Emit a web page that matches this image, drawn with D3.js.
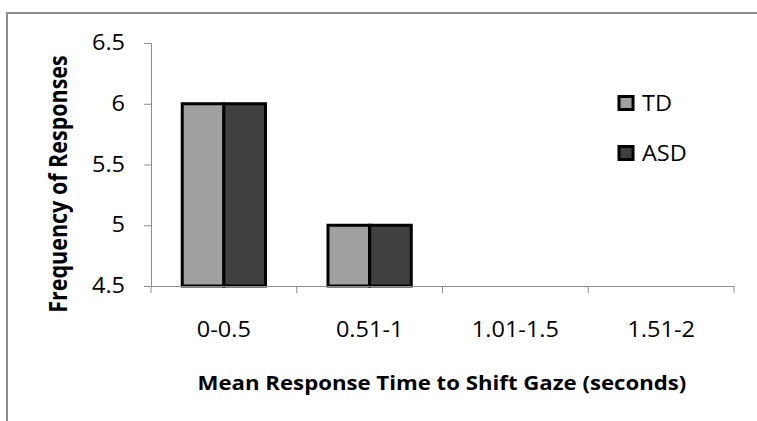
<!DOCTYPE html>
<html>
<head>
<meta charset="utf-8">
<script src="https://cdn.jsdelivr.net/npm/d3@7"></script>
<style>
  body { margin: 0; background: #fff; }
  svg { display: block; }
  text { font-family: "Open Sans", sans-serif; fill: #000; }
</style>
</head>
<body>
<svg id="chart" width="757" height="421"></svg>
<script>
// Response-time bins and frequencies per group
const categories = ["0-0.5", "0.51-1", "1.01-1.5", "1.51-2"];
const seriesNames = ["TD", "ASD"];
const tdValues = [6, 5, 4.5, 4.5];
const asdValues = [6, 5, 4.5, 4.5];
const yTicks = [4.5, 5, 5.5, 6, 6.5];
const colors = { TD: "#a0a0a0", ASD: "#404040" };

const svg = d3.select("#chart");
const W = 757, H = 421;
const SX = 1.12; // horizontal widening of glyphs

// widen a text element horizontally about its own anchor point
function widen(sel, sx) {
  sel.each(function () {
    const t = d3.select(this);
    const x = +t.attr("x") || 0;
    t.attr("transform", `translate(${x},0) scale(${sx},1) translate(${-x},0)`);
  });
}

// frame around the chart area
svg.append("rect")
  .attr("x", 7).attr("y", 13)
  .attr("width", W + 20).attr("height", H + 20)
  .attr("fill", "none").attr("stroke", "#8c8c8c").attr("stroke-width", 2);

const plot = { left: 151, right: 734, top: 43, bottom: 286 };

const y = d3.scaleLinear().domain([4.5, 6.5]).range([plot.bottom, plot.top]);
const x0 = d3.scaleBand().domain(categories).range([plot.left, plot.right]).padding(0);
const x1 = d3.scaleBand().domain(seriesNames).range([0, x0.bandwidth()])
  .paddingInner(0).paddingOuter(0.75);

const data = categories.map((c, i) => ({ cat: c, TD: tdValues[i], ASD: asdValues[i] }));

// bars
const groups = svg.append("g").selectAll("g").data(data).join("g")
  .attr("transform", d => `translate(${x0(d.cat)},0)`);
groups.selectAll("rect")
  .data(d => seriesNames.map(s => ({ s, v: d[s] })).filter(e => e.v > 4.5))
  .join("rect")
  .attr("x", d => x1(d.s))
  .attr("y", d => y(d.v))
  .attr("width", x1.bandwidth())
  .attr("height", d => y(4.5) - y(d.v))
  .attr("fill", d => colors[d.s])
  .attr("stroke", "#000")
  .attr("stroke-width", 3);

// y axis
const yAxis = svg.append("g")
  .attr("transform", `translate(${plot.left},0)`)
  .call(d3.axisLeft(y).tickValues(yTicks).tickSize(7).tickPadding(19)
    .tickFormat(d => d3.format("")(d)));
yAxis.select(".domain").attr("stroke", "#8c8c8c");
yAxis.selectAll(".tick line").attr("stroke", "#8c8c8c");
yAxis.selectAll(".tick text").style("font-size", "21px").attr("fill", "#222")
  .call(widen, SX);

// x axis
const xAxis = svg.append("g")
  .attr("transform", `translate(0,${plot.bottom})`)
  .call(d3.axisBottom(x0).tickSize(0));
xAxis.select(".domain").attr("stroke", "#8c8c8c");
xAxis.selectAll(".tick text")
  .attr("y", 51).attr("dy", 0)
  .style("font-size", "21px").attr("fill", "#222")
  .call(widen, SX);
// category boundary ticks
const bounds = [plot.left, ...categories.map(c => x0(c) + x0.bandwidth())];
xAxis.selectAll(".bound").data(bounds).join("line")
  .attr("class", "bound")
  .attr("x1", d => d).attr("x2", d => d)
  .attr("y1", 0).attr("y2", 7)
  .attr("stroke", "#8c8c8c");

// axis titles
svg.append("text")
  .attr("transform", `translate(67,184) scale(${SX},1) rotate(-90)`)
  .attr("text-anchor", "middle")
  .style("font-size", "21.5px").style("font-weight", "bold")
  .text("Frequency of Responses");

svg.append("text")
  .attr("x", 442).attr("y", 390)
  .attr("text-anchor", "middle")
  .style("font-size", "20px").style("font-weight", "bold")
  .text("Mean Response Time to Shift Gaze (seconds)")
  .call(widen, 1.11);

// legend
const legend = svg.append("g").selectAll("g").data(seriesNames).join("g")
  .attr("transform", (d, i) => `translate(619,${96.5 + i * 50})`);
legend.append("rect")
  .attr("width", 14).attr("height", 13)
  .attr("fill", d => colors[d]).attr("stroke", "#000").attr("stroke-width", 3);
legend.append("text")
  .attr("x", 23).attr("y", 14.5)
  .style("font-size", "21px").attr("fill", "#222")
  .text(d => d)
  .call(widen, SX);
</script>
</body>
</html>
